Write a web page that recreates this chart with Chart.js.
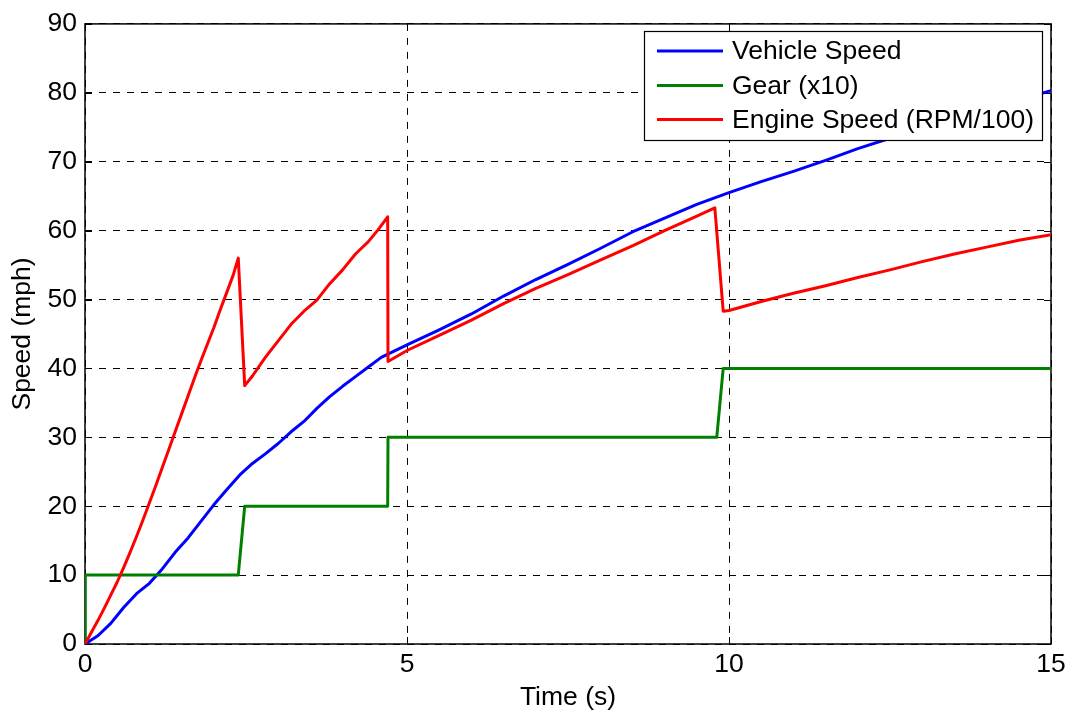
<!DOCTYPE html>
<html>
<head>
<meta charset="utf-8">
<script src="https://cdn.jsdelivr.net/npm/chart.js@4/dist/chart.umd.min.js"></script>
<style>
  html, body { margin: 0; padding: 0; background: #ffffff; }
  #wrap { width: 1072px; height: 714px; position: relative; }
</style>
</head>
<body>
<div id="wrap"><canvas id="chart" width="1072" height="714"></canvas></div>
<script>
// Time axis ticks (s) and speed axis ticks (mph)
const timeTicks = [0, 5, 10, 15];
const speedTicks = [0, 10, 20, 30, 40, 50, 60, 70, 80, 90];

// Vehicle speed (mph) over time (s)
const vehicleTime = [0, 0.2, 0.4, 0.6, 0.8, 1.0, 1.2, 1.4, 1.6, 1.8, 2.0, 2.2, 2.4, 2.6, 2.8, 3.0,
  3.2, 3.4, 3.6, 3.8, 4.0, 4.2, 4.4, 4.6, 4.8, 5.0, 5.5, 6.0, 6.5, 7.0, 7.5, 8.0, 8.5, 9.0, 9.5,
  10.0, 10.5, 11.0, 11.5, 12.0, 12.5, 13.0, 13.5, 14.0, 14.5, 15.0];
const vehicleSpeed = [0, 1.2, 3.0, 5.3, 7.3, 8.8, 10.9, 13.3, 15.4, 17.8, 20.2, 22.4, 24.5, 26.2, 27.6, 29.1,
  30.8, 32.3, 34.2, 35.9, 37.4, 38.8, 40.2, 41.6, 42.5, 43.4, 45.6, 47.9, 50.5, 52.9, 55.1, 57.4, 59.8, 61.8, 63.8,
  65.5, 67.1, 68.6, 70.2, 71.9, 73.4, 74.9, 76.3, 77.7, 79.0, 80.3];

// Selected gear, scaled by 10
const gearTime = [0, 0.005, 2.38, 2.48, 4.70, 4.705, 9.81, 9.91, 15];
const gearValue = [0, 10, 10, 20, 20, 30, 30, 40, 40];

// Engine speed (RPM / 100)
const engineTime = [0, 0.1, 0.2, 0.3, 0.4, 0.5, 0.6, 0.7, 0.8, 0.9, 1.0, 1.1, 1.2, 1.3, 1.4, 1.5, 1.6, 1.7,
  1.8, 1.9, 2.0, 2.1, 2.2, 2.3, 2.38, 2.48, 2.6, 2.8, 3.0, 3.2, 3.4, 3.6, 3.8, 4.0, 4.2, 4.4, 4.55, 4.7,
  4.705, 5.0, 5.5, 6.0, 6.5, 7.0, 7.5, 8.0, 8.5, 9.0, 9.5, 9.78, 9.91, 10.0, 10.5, 11.0, 11.5, 12.0,
  12.5, 13.0, 13.5, 14.0, 14.5, 15.0];
const engineSpeed = [0, 1.7, 3.4, 5.2, 7.1, 9.0, 11.1, 13.3, 15.6, 18.0, 20.5, 23.0, 25.6, 28.2, 30.8, 33.4, 36.0, 38.6,
  41.1, 43.5, 45.9, 48.5, 51.0, 53.5, 56.0, 37.5, 38.9, 41.6, 44.0, 46.4, 48.3, 49.9, 52.3, 54.3, 56.6, 58.4, 60.1, 62.0,
  41.0, 42.6, 44.8, 47.0, 49.4, 51.6, 53.6, 55.7, 57.8, 60.0, 62.1, 63.3, 48.3, 48.4, 49.7, 50.9, 52.0, 53.2,
  54.3, 55.5, 56.6, 57.6, 58.6, 59.4];

const seriesNames = ['Vehicle Speed', 'Gear (x10)', 'Engine Speed (RPM/100)'];
const seriesColors = ['#0000ff', '#008000', '#ff0000'];

const FONT = '"Liberation Sans", Arial, Helvetica, sans-serif';
const FONT_SIZE = 26.5;

function toPoints(xs, ys) {
  return xs.map((x, i) => ({ x: x, y: ys[i] }));
}

// Axes box with short inward tick marks, drawn under the curves
const axesBox = {
  id: 'axesBox',
  beforeDatasetsDraw(chart) {
    const { ctx, chartArea: a, scales } = chart;
    const tickLen = 7;
    ctx.save();
    ctx.strokeStyle = '#000000';
    ctx.lineWidth = 1;
    ctx.beginPath();
    speedTicks.forEach(v => {
      const y = Math.round(scales.y.getPixelForValue(v)) + 0.5;
      ctx.moveTo(a.left, y); ctx.lineTo(a.left + tickLen, y);
      ctx.moveTo(a.right, y); ctx.lineTo(a.right - tickLen, y);
    });
    timeTicks.forEach(v => {
      const x = Math.round(scales.x.getPixelForValue(v)) + 0.5;
      ctx.moveTo(x, a.bottom); ctx.lineTo(x, a.bottom - tickLen);
      ctx.moveTo(x, a.top); ctx.lineTo(x, a.top + tickLen);
    });
    ctx.stroke();
    ctx.lineWidth = 1.5;
    ctx.strokeRect(a.left, a.top, a.right - a.left, a.bottom - a.top);
    ctx.restore();
  }
};

// Boxed legend placed in the upper right of the plot area
const boxLegend = {
  id: 'boxLegend',
  afterDatasetsDraw(chart) {
    const { ctx } = chart;
    const bx = 644, by = 31, bw = 398, bh = 109;
    ctx.save();
    ctx.fillStyle = '#ffffff';
    ctx.fillRect(bx, by, bw, bh);
    ctx.strokeStyle = '#000000';
    ctx.lineWidth = 1.2;
    ctx.strokeRect(bx + 0.5, by + 0.5, bw, bh);
    ctx.font = FONT_SIZE + 'px ' + FONT;
    ctx.textBaseline = 'middle';
    ctx.textAlign = 'left';
    const rows = [51, 85.5, 119.5];
    seriesNames.forEach((name, i) => {
      const y = rows[i];
      ctx.strokeStyle = seriesColors[i];
      ctx.lineWidth = 3;
      ctx.beginPath();
      ctx.moveTo(657, y);
      ctx.lineTo(723, y);
      ctx.stroke();
      ctx.fillStyle = '#000000';
      ctx.fillText(name, 732, y + 1);
    });
    ctx.restore();
  }
};

new Chart(document.getElementById('chart'), {
  type: 'line',
  data: {
    datasets: [
      { label: seriesNames[0], data: toPoints(vehicleTime, vehicleSpeed), borderColor: seriesColors[0], order: 2 },
      { label: seriesNames[1], data: toPoints(gearTime, gearValue), borderColor: seriesColors[1], order: 1 },
      { label: seriesNames[2], data: toPoints(engineTime, engineSpeed), borderColor: seriesColors[2], order: 0 }
    ]
  },
  options: {
    responsive: false,
    animation: false,
    elements: {
      line: { borderWidth: 3, tension: 0, fill: false, borderJoinStyle: 'round', borderCapStyle: 'round' },
      point: { radius: 0, hoverRadius: 0 }
    },
    layout: { padding: { top: 16, right: 21, left: 0, bottom: 0 } },
    plugins: {
      legend: { display: false },
      tooltip: { enabled: false }
    },
    scales: {
      x: {
        type: 'linear',
        min: 0,
        max: 15,
        afterBuildTicks(scale) { scale.ticks = timeTicks.map(v => ({ value: v })); },
        afterFit(scale) { scale.height = 70; },
        ticks: {
          color: '#000000',
          font: { family: FONT, size: FONT_SIZE },
          padding: 5,
          maxRotation: 0,
          autoSkip: false
        },
        grid: { color: '#000000', lineWidth: 1, drawTicks: false },
        border: { display: false, dash: [7, 7] },
        title: {
          display: true,
          text: 'Time (s)',
          color: '#000000',
          font: { family: FONT, size: FONT_SIZE },
          padding: { top: 0, bottom: 0 }
        }
      },
      y: {
        type: 'linear',
        min: 0,
        max: 90,
        afterBuildTicks(scale) { scale.ticks = speedTicks.map(v => ({ value: v })); },
        afterFit(scale) { scale.width = 85; },
        ticks: {
          color: '#000000',
          font: { family: FONT, size: FONT_SIZE },
          padding: 8,
          autoSkip: false
        },
        grid: { color: '#000000', lineWidth: 1, drawTicks: false },
        border: { display: false, dash: [7, 7] },
        title: {
          display: true,
          text: 'Speed (mph)',
          color: '#000000',
          font: { family: FONT, size: FONT_SIZE },
          padding: { top: 7, bottom: 0 }
        }
      }
    }
  },
  plugins: [axesBox, boxLegend]
});
</script>
</body>
</html>
